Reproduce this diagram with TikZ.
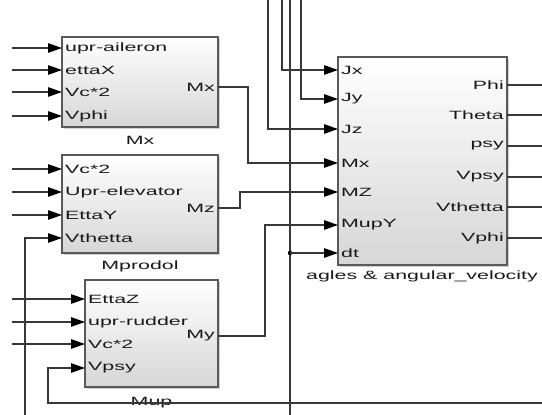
\documentclass[tikz,border=0pt]{standalone}
\usepackage{fontspec}
\newfontfamily\slfont[FakeStretch=1.78]{Liberation Sans}
\usetikzlibrary{arrows.meta}
\usetikzlibrary{shadows}

\begin{document}
\begin{tikzpicture}[x=1pt,y=-1pt,
  font=\slfont\fontsize{12}{14}\selectfont,
  sig/.style={draw=black!78,line width=1.15pt},
  arr/.style={sig,-{Triangle[length=14pt,width=9.5pt,fill=black,color=black]}},
  blk/.style={rectangle,draw=black!65,line width=1.3pt,inner sep=0pt,top color=white,bottom color=black!16,
    drop shadow={shadow xshift=1.5pt,shadow yshift=-1.5pt,fill=black!35}},
  inp/.style={anchor=west,inner xsep=3pt,inner ysep=0pt,text=black!90},
  outp/.style={anchor=east,inner xsep=3pt,inner ysep=0pt,text=black!90},
  ttl/.style={inner sep=0pt,text=black!90}]
\useasboundingbox[fill=white] (0,0) rectangle (542,415);
\coordinate (redge) at (542,0);

% blocks
\node[blk,minimum width=156pt,minimum height=90pt] (mxb) at (140,82) {};
\node[blk,minimum width=156pt,minimum height=98pt] (mpb) at (140,204) {};
\node[blk,minimum width=133pt,minimum height=107pt] (mub) at (151.5,333.5) {};
\node[blk,minimum width=169pt,minimum height=208pt] (agb) at (422.5,161) {};

\node[ttl] (mxt) at (140,140) {Mx};
\node[ttl] (mpt) at (140,266) {Mprodol};
\node[ttl] (mut) at (151.5,403) {Mup};
\node[ttl] (agt) at (422,276) {agles \& angular\_velocity};

% Mx ports
\node[inp] (mx1) at (62,48) {upr-aileron};
\node[inp] (mx2) at (62,70) {ettaX};
\node[inp] (mx3) at (62,92) {Vc*2};
\node[inp] (mx4) at (62,116) {Vphi};
\node[outp] (mxo) at (218,87) {Mx};

% Mprodol ports
\node[inp] (mp1) at (62,169) {Vc*2};
\node[inp] (mp2) at (62,192) {Upr-elevator};
\node[inp] (mp3) at (62,215) {EttaY};
\node[inp] (mp4) at (62,238) {Vthetta};
\node[outp] (mpo) at (218,208) {Mz};

% Mup ports
\node[inp] (mu1) at (85,299) {EttaZ};
\node[inp] (mu2) at (85,322) {upr-rudder};
\node[inp] (mu3) at (85,344) {Vc*2};
\node[inp] (mu4) at (85,368) {Vpsy};
\node[outp] (muo) at (218,336) {My};

% angles block ports
\node[inp] (bi1) at (338,70) {Jx};
\node[inp] (bi2) at (338,99) {Jy};
\node[inp] (bi3) at (338,129) {Jz};
\node[inp] (bi4) at (338,163) {Mx};
\node[inp] (bi5) at (338,192) {MZ};
\node[inp] (bi6) at (338,225) {MupY};
\node[inp] (bi7) at (338,253) {dt};
\node[outp] (bo1) at (507,85) {Phi};
\node[outp] (bo2) at (507,115) {Theta};
\node[outp] (bo3) at (507,146) {psy};
\node[outp] (bo4) at (507,177) {Vpsy};
\node[outp] (bo5) at (507,207) {Vthetta};
\node[outp] (bo6) at (507,238) {Vphi};

% inputs from the left
\coordinate (mxs1) at (12,48);
\coordinate (mxs2) at (12,70);
\coordinate (mxs3) at (12,92);
\coordinate (mxs4) at (12,116);
\coordinate (mps1) at (12,169);
\coordinate (mps2) at (12,192);
\coordinate (mps3) at (12,215);
\coordinate (mus1) at (12,299);
\coordinate (mus2) at (12,322);
\coordinate (mus3) at (12,344);
\draw[arr] (mxs1) -- (mx1.west);
\draw[arr] (mxs2) -- (mx2.west);
\draw[arr] (mxs3) -- (mx3.west);
\draw[arr] (mxs4) -- (mx4.west);
\draw[arr] (mps1) -- (mp1.west);
\draw[arr] (mps2) -- (mp2.west);
\draw[arr] (mps3) -- (mp3.west);
\draw[arr] (mus1) -- (mu1.west);
\draw[arr] (mus2) -- (mu2.west);
\draw[arr] (mus3) -- (mu3.west);

% feedback lines
\coordinate (vts) at (25,415);
\draw[arr] (vts) |- (mp4.west);
\coordinate (vps) at (542,403);
\coordinate (vpc) at (48,403);
\draw[arr] (vps) -- (vpc) |- (mu4.west);

% moments into the angles block
\draw[arr] (mxo.east) -- ++(30,0) |- (bi4.west);
\draw[arr] (mpo.east) -- ++(22,0) |- (bi5.west);
\draw[arr] (muo.east) -- ++(47,0) |- (bi6.west);

% inertia and time step from the top
\coordinate (jxs) at (282,0);
\coordinate (jys) at (301,0);
\coordinate (jzs) at (268,0);
\draw[arr] (jxs) |- (bi1.west);
\draw[arr] (jys) |- (bi2.west);
\draw[arr] (jzs) |- (bi3.west);
\coordinate (dts) at (290,0);
\coordinate (dte) at (290,415);
\coordinate (dtj) at (290,253);
\draw[sig] (dts) -- (dte);
\fill[black] (dtj) circle (2.2pt);
\draw[arr] (dtj) -- (bi7.west);

% outputs to the right
\draw[sig] (bo1.east) -- (bo1.east -| redge);
\draw[sig] (bo2.east) -- (bo2.east -| redge);
\draw[sig] (bo3.east) -- (bo3.east -| redge);
\draw[sig] (bo4.east) -- (bo4.east -| redge);
\draw[sig] (bo5.east) -- (bo5.east -| redge);
\draw[sig] (bo6.east) -- (bo6.east -| redge);

\end{tikzpicture}
\end{document}
